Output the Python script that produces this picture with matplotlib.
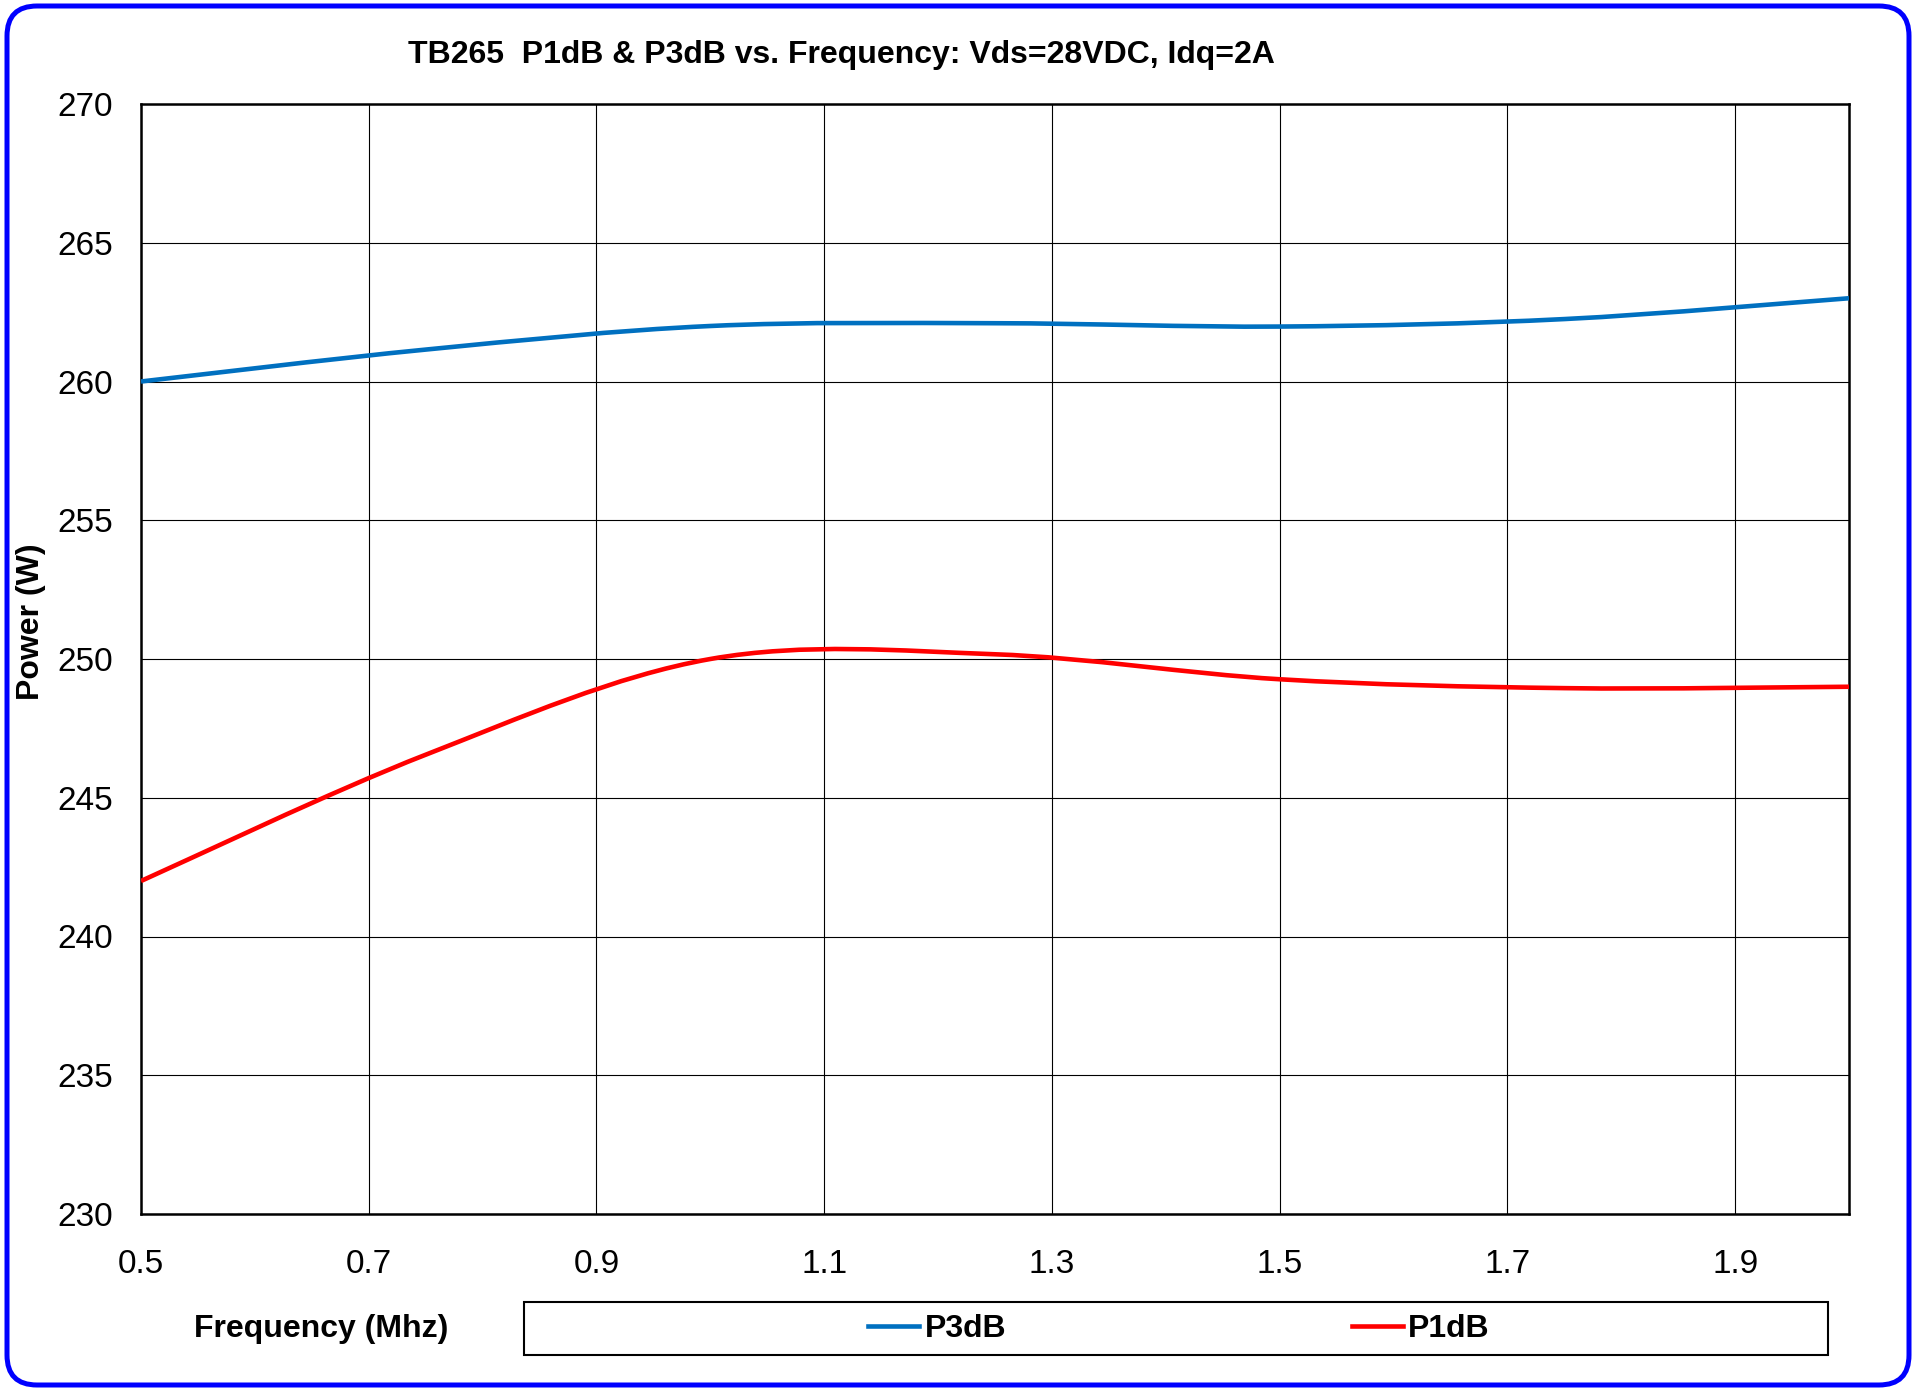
import matplotlib
matplotlib.use("Agg")
import matplotlib.pyplot as plt
from matplotlib.path import Path
from matplotlib.patches import PathPatch, FancyBboxPatch, Rectangle
from matplotlib.lines import Line2D

plt.rcParams['font.family'] = ['Liberation Sans', 'DejaVu Sans']

# Data
freq = [0.5, 0.75, 1.0, 1.25, 1.5, 1.75, 2.0]
p3db = [260.0, 261.15, 262.0, 262.1, 261.98, 262.25, 263.0]
p1db = [242.0, 246.55, 250.0, 250.17, 249.27, 248.95, 249.0]
x_ticks = [0.5, 0.7, 0.9, 1.1, 1.3, 1.5, 1.7, 1.9]
y_ticks = [230, 235, 240, 245, 250, 255, 260, 265, 270]
title = "TB265  P1dB & P3dB vs. Frequency: Vds=28VDC, Idq=2A"
series_names = ["P3dB", "P1dB"]
series_colors = ["#0070C0", "#FF0000"]


def smooth_path(xs, ys):
    """Excel-style smoothed line: cubic Bezier through data points."""
    pts = list(zip(xs, ys))
    n = len(pts)
    verts = [pts[0]]
    codes = [Path.MOVETO]
    for i in range(n - 1):
        p0 = pts[i - 1] if i > 0 else pts[i]
        p1 = pts[i]
        p2 = pts[i + 1]
        p3 = pts[i + 2] if i + 2 < n else pts[i + 1]
        c1 = (p1[0] + (p2[0] - p0[0]) / 6.0, p1[1] + (p2[1] - p0[1]) / 6.0)
        c2 = (p2[0] - (p3[0] - p1[0]) / 6.0, p2[1] - (p3[1] - p1[1]) / 6.0)
        verts += [c1, c2, p2]
        codes += [Path.CURVE4] * 3
    return Path(verts, codes)


W, H = 1919, 1390
fig = plt.figure(figsize=(W / 100, H / 100), dpi=100)

# Outer rounded blue border (in inches to keep corners circular)
border = FancyBboxPatch((0.07, 0.05), 19.02, 13.79,
                        boxstyle="round,pad=0,rounding_size=0.3",
                        transform=fig.dpi_scale_trans, fill=False,
                        edgecolor="#0000FF", linewidth=3.6, zorder=0)
fig.patches.append(border)

ax = fig.add_axes([141 / W, 1 - 1214 / H, (1849 - 141) / W, (1214 - 104) / H])

for series, color in zip([p3db, p1db], series_colors):
    patch = PathPatch(smooth_path(freq, series), fill=False, edgecolor=color,
                      linewidth=3.3, capstyle='butt', zorder=3)
    ax.add_patch(patch)

ax.set_xlim(0.5, 2.0)
ax.set_ylim(230, 270)
ax.set_xticks(x_ticks)
ax.set_xticklabels([f"{v:.1f}" for v in x_ticks])
ax.set_yticks(y_ticks)
ax.set_yticklabels([str(v) for v in y_ticks])
ax.tick_params(axis='both', length=0, labelsize=24)
ax.tick_params(axis='x', pad=25)
ax.tick_params(axis='y', pad=20)
ax.grid(True, color="#000000", linewidth=0.8)
ax.set_axisbelow(True)
for s in ax.spines.values():
    s.set_linewidth(1.8)
    s.set_color("black")

fig.text(841 / W, 1 - 55 / H, title, ha='center', va='center',
         fontsize=23, fontweight='bold')
fig.text(31 / W, 1 - 622 / H, "Power (W)", ha='center', va='center',
         rotation=90, fontsize=23, fontweight='bold')
fig.text(321 / W, 1 - 1329 / H, "Frequency (Mhz)", ha='center', va='center',
         fontsize=23, fontweight='bold')

# Legend box
box = Rectangle((524 / W, 1 - 1355 / H), (1828 - 524) / W, (1355 - 1302) / H,
                transform=fig.transFigure, fill=False, edgecolor='black',
                linewidth=1.5)
fig.patches.append(box)
handles = [Line2D([], [], color=c, linewidth=3.3) for c in series_colors]
leg = fig.legend(handles, series_names, loc='center',
                 bbox_to_anchor=(1179 / W, 1 - 1329 / H), ncol=2,
                 frameon=False, prop={'weight': 'bold', 'size': 23},
                 handlelength=1.6, handletextpad=0.18, columnspacing=10.8)

fig.savefig("out.png", dpi=100)
